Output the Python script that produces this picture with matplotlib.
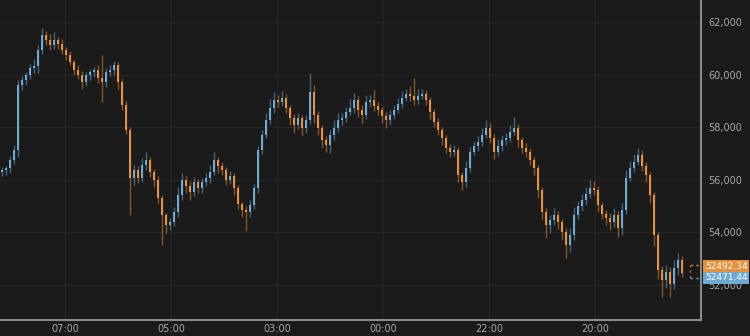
import numpy as np
import matplotlib.pyplot as plt
from matplotlib.ticker import FuncFormatter

# closing prices, one candle per step
closes = [56373, 56449, 56753, 57133, 59604, 59794, 59984, 60251, 60327, 60935,
          61505, 61315, 61125, 61315, 61163, 60935, 60745, 60479, 60175, 59984,
          59718, 59984, 60099, 60175, 59870, 59718, 60099, 60175, 60365, 59718,
          58844, 57893, 56068, 56373, 56068, 56563, 56753, 56297, 55992, 55308,
          54662, 54281, 54396, 54776, 55422, 55992, 55764, 55536, 55916, 55688,
          55916, 56068, 56297, 56753, 56525, 56373, 55992, 56144, 55688, 55080,
          54852, 54776, 55042, 55688, 57133, 57703, 58274, 58730, 59034, 58958,
          59110, 58730, 58350, 58083, 58350, 57969, 58274, 59338, 58464, 57969,
          57513, 57323, 57703, 57969, 58274, 58350, 58578, 58730, 59034, 58654,
          58464, 58958, 59034, 58806, 58654, 58426, 58274, 58464, 58654, 58882,
          59110, 59262, 59186, 59034, 59186, 59262, 59034, 58578, 58198, 57893,
          57589, 57209, 57057, 57133, 56182, 55916, 56449, 57057, 57285, 57437,
          57703, 57969, 57589, 57057, 57285, 57513, 57589, 57817, 57969, 57513,
          57209, 57057, 56753, 56449, 55612, 54776, 54281, 54472, 54662, 54396,
          54015, 53521, 53901, 54662, 55004, 55232, 55460, 55688, 55612, 55042,
          54700, 54548, 54396, 54662, 54167, 54852, 56068, 56449, 56677, 56943,
          56525, 56182, 55422, 53901, 52571, 52190, 52495, 52038, 52647, 52951,
          52471]
first_open = 56300

# wick lengths above / below the body
wick_up = [120, 90, 150, 200, 180, 150, 120, 160, 250, 200,
           280, 150, 220, 300, 120, 180, 100, 140, 90, 200,
           150, 130, 100, 120, 180, 875, 150, 200, 150, 120,
           100, 150, 120, 200, 150, 250, 300, 120, 100, 150,
           100, 80, 150, 200, 300, 250, 150, 200, 180, 120,
           150, 200, 250, 300, 120, 150, 100, 200, 120, 100,
           90, 150, 200, 150, 150, 200, 250, 350, 300, 200,
           250, 150, 120, 150, 180, 120, 200, 720, 250, 150,
           120, 150, 200, 300, 250, 180, 200, 350, 250, 150,
           180, 250, 200, 380, 150, 120, 150, 200, 180, 220,
           250, 200, 300, 690, 250, 200, 150, 120, 100, 150,
           130, 120, 150, 200, 100, 120, 250, 200, 180, 220,
           280, 300, 200, 150, 250, 200, 180, 250, 420, 150,
           120, 200, 150, 120, 100, 100, 150, 200, 250, 150,
           120, 150, 250, 300, 200, 220, 250, 300, 270, 150,
           120, 150, 200, 250, 150, 250, 300, 250, 300, 270,
           200, 150, 120, 100, 120, 150, 250, 200, 300, 270,
           150]
wick_dn = [150, 200, 180, 150, 250, 200, 180, 150, 200, 250,
           150, 200, 180, 150, 200, 150, 180, 120, 200, 150,
           250, 150, 200, 180, 200, 760, 180, 150, 200, 250,
           200, 150, 1400, 250, 200, 150, 200, 180, 250, 200,
           1140, 300, 200, 150, 200, 180, 250, 300, 150, 200,
           180, 150, 200, 120, 250, 200, 180, 150, 250, 200,
           250, 730, 200, 150, 180, 150, 120, 150, 200, 180,
           150, 200, 250, 300, 150, 250, 200, 150, 300, 250,
           300, 250, 300, 200, 150, 180, 150, 120, 200, 250,
           300, 150, 200, 180, 200, 250, 300, 200, 150, 120,
           150, 120, 200, 180, 150, 130, 200, 250, 200, 180,
           250, 200, 180, 150, 250, 300, 200, 150, 120, 180,
           150, 120, 200, 250, 150, 200, 180, 150, 120, 250,
           200, 180, 200, 250, 300, 250, 500, 300, 200, 250,
           300, 500, 250, 200, 150, 180, 200, 150, 180, 250,
           200, 250, 300, 200, 350, 250, 150, 120, 150, 120,
           200, 250, 300, 400, 350, 645, 300, 500, 200, 250,
           150]

tick_pos = [15.75, 42.25, 68.75, 95.25, 121.75, 148.25]
tick_labels = ["07:00", "05:00", "03:00", "00:00", "22:00", "20:00"]
y_ticks = [52000, 54000, 56000, 58000, 60000, 62000]
tag_orange = 52492.34
tag_blue = 52471.44

bg = "#1b1b1b"
blue = "#6eaad4"
orange = "#e8913c"
txt = "#a8a8a8"

closes = np.array(closes, dtype=float)
opens = np.r_[first_open, closes[:-1]]
idx = np.arange(len(closes))
top = np.maximum(opens, closes) + np.array(wick_up)
bot = np.minimum(opens, closes) - np.array(wick_dn)
up = closes >= opens
cols = np.where(up, blue, orange)

fig = plt.figure(figsize=(7.5, 3.36), dpi=100, facecolor=bg)
ax = fig.add_axes([0, 16 / 336, 701 / 750, 320 / 336], facecolor=bg)

ax.vlines(idx, bot, top, colors=cols, linewidth=1.0, alpha=0.5)
ax.bar(idx, np.abs(closes - opens) + 15, bottom=np.minimum(opens, closes),
       width=0.68, color=cols, linewidth=0)

# current candle placeholder
ax.plot([172, 174.6], [52760, 52760], ls=(0, (2, 2)), color=orange, lw=1, alpha=0.8)
ax.plot([172, 174.6], [52250, 52250], ls=(0, (2, 2)), color=blue, lw=1, alpha=0.8)
ax.plot([172, 172], [52250, 52760], ls=(0, (2, 2)), color=orange, lw=1, alpha=0.6)

ax.set_xlim(-0.5, 174.75)
ax.set_ylim(50670, 62836)

ax.set_xticks(tick_pos)
ax.set_xticklabels(tick_labels)
ax.set_yticks(y_ticks)
ax.yaxis.set_major_formatter(FuncFormatter(lambda v, p: f"{int(v):,}"))
ax.yaxis.tick_right()
ax.tick_params(axis="both", length=0, labelsize=7, colors=txt)
ax.tick_params(axis="y", pad=5)
ax.tick_params(axis="x", pad=3)
ax.grid(True, color="#262626", lw=0.8)
ax.set_axisbelow(True)

for s in ["left", "top"]:
    ax.spines[s].set_visible(False)
for s in ["right", "bottom"]:
    ax.spines[s].set_color("#8c8c8c")
    ax.spines[s].set_linewidth(1.5)

# last price tags, stacked so they do not cover each other
mid = (tag_orange + tag_blue) / 2
for val, c, dy in [(tag_orange, orange, 6), (tag_blue, blue, -5.5)]:
    ax.annotate(f"{val:.2f}", xy=(1, mid), xycoords=("axes fraction", "data"),
                xytext=(4, dy), textcoords="offset pixels",
                ha="left", va="center", fontsize=6.5, color="white",
                bbox=dict(boxstyle="square,pad=0.2", fc=c, ec="none"),
                annotation_clip=False)

fig.savefig("out.png", dpi=100, facecolor=bg)
